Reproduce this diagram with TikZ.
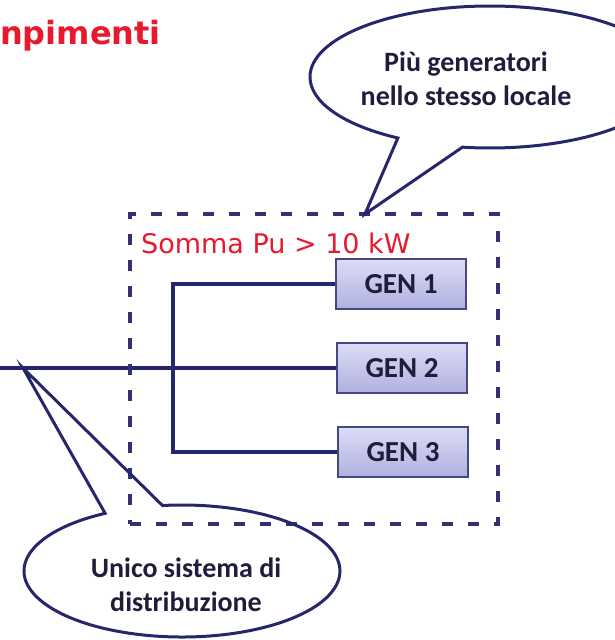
\documentclass[tikz,border=0pt]{standalone}
\usepackage{fontspec}
\setmainfont{Carlito}
\newfontfamily\dejavu{DejaVu Sans}
\usetikzlibrary{shapes.callouts}

\definecolor{navy}{HTML}{26266C}
\definecolor{inkdark}{HTML}{1E1E3C}
\definecolor{redtext}{HTML}{E8192C}
\definecolor{genlight}{HTML}{DCDCF6}
\definecolor{gendark}{HTML}{B0B0E0}

\tikzset{
    busline/.style={navy, line width=4pt},
    genbox/.style={draw=navy!85, line width=2.5pt, top color=genlight, bottom color=gendark,
        minimum width=130pt, minimum height=50pt, inner sep=0pt,
        font=\bfseries\fontsize{29}{30}\selectfont, text=inkdark},
    localebox/.style={draw=navy!95, line width=3.5pt, dash pattern=on 11pt off 15pt,
        minimum width=368pt, minimum height=310pt, inner sep=0pt},
    bubble/.style={ellipse callout, draw=navy, line width=3pt, inner sep=0pt,
        callout pointer arc=22},
    bubbletext/.style={align=center, text=inkdark, inner sep=0pt,
        font=\bfseries\fontsize{28}{34}\selectfont}
}

\begin{document}
\begin{tikzpicture}[x=1pt, y=-1pt]
    \useasboundingbox (0,0) rectangle (614,640);

    % Title (cut off on the left)
    \node[anchor=base west, inner sep=0pt, text=redtext, font=\dejavu\bfseries\fontsize{32}{34}\selectfont]
        (title) at (0,44) {npimenti};

    % Generators
    \node[genbox] (gen1) at (401,284) {GEN 1};
    \node[genbox] (gen2) at (402,368) {GEN 2};
    \node[genbox] (gen3) at (403,452) {GEN 3};

    % Distribution bus
    \coordinate (feed) at (0,368);
    \coordinate (busx) at (173,0);
    \draw[busline] (gen1.west) -| (busx |- gen3.west) -- (gen3.west);
    \draw[busline] (feed) -- (gen2.west);

    % Room boundary
    \node[localebox] (room) at (314,369) {};
    \node[anchor=west, inner sep=0pt, text=redtext, font=\dejavu\fontsize{27}{29}\selectfont]
        (somma) at (141,243) {Somma Pu > 10 kW};

    % Callouts
    \coordinate (tipup) at (365,214);
    \coordinate (tipdown) at (23,368);
    \node[bubble, minimum width=360pt, minimum height=142pt, callout absolute pointer={(tipup)}]
        (bubbleup) at (490,77) {};
    \node[bubbletext] (bubbleuptext) at (466,79) {Più generatori\\nello stesso locale};
    \node[bubble, minimum width=316pt, minimum height=132pt, callout absolute pointer={(tipdown)}]
        (bubbledown) at (182,571) {};
    \node[bubbletext] (bubbledowntext) at (186,585) {Unico sistema di\\distribuzione};
\end{tikzpicture}
\end{document}
